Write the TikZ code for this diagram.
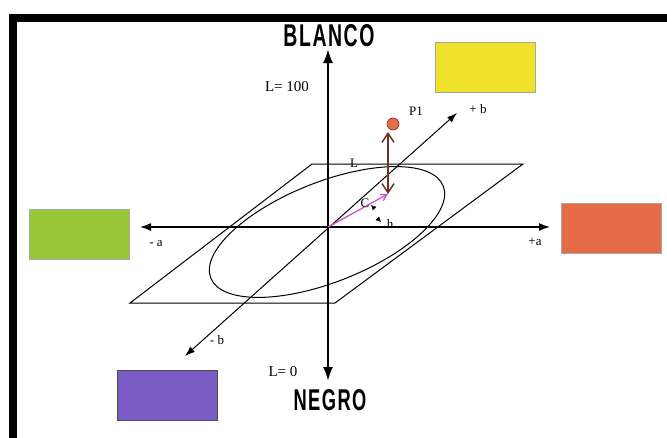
\documentclass[tikz,border=0pt]{standalone}
\usepackage{fontspec}
\setmainfont{Liberation Serif}
\newfontfamily\capsfont[LetterSpace=8]{Liberation Sans}
\usetikzlibrary{arrows.meta,positioning}
\definecolor{swyellow}{RGB}{240,226,42}
\definecolor{swgreen}{RGB}{152,200,58}
\definecolor{sworange}{RGB}{230,108,72}
\definecolor{swpurple}{RGB}{122,92,196}
\definecolor{lbrown}{RGB}{110,48,38}
\definecolor{cmagenta}{RGB}{212,80,200}
\tikzstyle{axis} = [line width=1.5pt,{Latex[length=11pt,width=8pt]}-{Latex[length=11pt,width=8pt]}]
\tikzstyle{swatch} = [draw=black!35,line width=0.4pt,inner sep=0pt,minimum width=100pt,minimum height=50pt]
\tikzstyle{lbl} = [font=\fontsize{13}{15}\selectfont,inner sep=0pt]
\tikzstyle{big} = [font=\fontsize{15}{17}\selectfont,inner sep=0pt]

\begin{document}
\begin{tikzpicture}[x=1pt,y=-1pt]
    \useasboundingbox (0,0) rectangle (667,437);
    \draw[line width=8pt,miter limit=10] (13,450) -- (13,17.5) -- (680,17.5);

    % axes
    \coordinate (O) at (328,227);
    \coordinate (top) at (328,49);
    \coordinate (bot) at (328,381);
    \coordinate (am) at (140,227);
    \coordinate (ap) at (550,227);
    \coordinate (bm) at (185,356);
    \coordinate (bp) at (457,113);

    % plane and circle of constant L
    \coordinate (p1) at (312,164);
    \coordinate (p2) at (523,164);
    \coordinate (p3) at (335,303);
    \coordinate (p4) at (130,303);
    \draw[line width=1pt] (p1) -- (p2) -- (p3) -- (p4) -- cycle;
    \draw[line width=1pt,rotate around={21.6:(327,232)}] (327,232) ellipse [x radius=125,y radius=50];

    \draw[axis,line width=2.2pt,{Latex[length=14pt,width=10pt]}-{Latex[length=14pt,width=10pt]}] (bot) -- (top);
    \draw[axis] (am) -- (ap);
    \draw[axis,line width=1pt,{Latex[length=10pt,width=7pt]}-{Latex[length=10pt,width=7pt]}] (bm) -- (bp);

    % point and its vectors
    \node[circle,fill=sworange,draw=lbrown,line width=0.6pt,inner sep=0pt,minimum size=12pt] (P) at (393,124) {};
    \coordinate (Lt) at (388,132);
    \coordinate (Lb) at (388,194);
    \draw[lbrown,line width=1.5pt,{Straight Barb[length=9pt,width=12pt]}-{Straight Barb[length=9pt,width=12pt]}] (Lb) -- (Lt);
    \draw[cmagenta,line width=1.3pt,-{Straight Barb[length=6pt,width=7pt]}] (O) -- (Lb);
    \draw[-{Latex[length=5pt,width=5pt]}] (375,209) -- (371,205);
    \draw[-{Latex[length=5pt,width=5pt]}] (377,218) -- (381,222);

    % labels
    \node[lbl] (lP) at (416,111) {P1};
    \node[lbl] (lbp) at (478,109) {+ b};
    \node[lbl] (lbm) at (217,340) {- b};
    \node[lbl] (lam) at (156,244) {- a};
    \node[lbl] (lap) at (535,242) {+a};
    \node[lbl] (lL) at (354,163) {L};
    \node[lbl] (lC) at (365,203) {C};
    \node[lbl] (lh) at (390,224) {h};
    \node[big] (l100) at (287,87) {L= 100};
    \node[big] (l0) at (283,372) {L= 0};
    \node[inner sep=0pt] (white) at (329,36) {\resizebox{91pt}{22pt}{\capsfont\bfseries BLANCO}};
    \node[inner sep=0pt] (black) at (330,400) {\resizebox{73pt}{21pt}{\capsfont\bfseries NEGRO}};

    % colour swatches
    \node[swatch,fill=swyellow] (yellow) at (485,67) {};
    \node[swatch,fill=swgreen] (green) at (79,234) {};
    \node[swatch,fill=sworange] (red) at (611,228) {};
    \node[swatch,fill=swpurple,draw=black!70] (blue) at (167,395) {};
\end{tikzpicture}
\end{document}
